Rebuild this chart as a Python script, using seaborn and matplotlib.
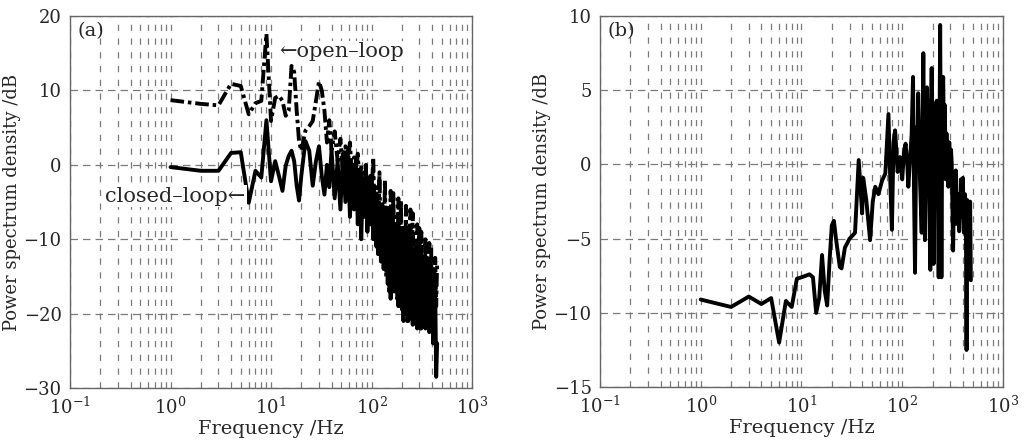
import numpy as np
import pandas as pd
import seaborn as sns
import matplotlib.pyplot as plt
from matplotlib.ticker import LogLocator, FixedLocator

# ======================================
# DATA
# ======================================
freq_a = [1, 2, 3, 4, 5, 6, 7, 8, 9, 10, 11, 12, 13, 14, 15, 16, 17, 18, 19, 20,
          22, 24, 26, 28, 30, 32, 34, 36, 38, 40,
          43, 46, 49, 52, 55, 58, 61, 64, 67, 70,
          73, 76, 79, 82, 85, 88, 91, 94, 97, 100,
          104, 108, 112, 116, 120, 124, 128, 132, 136, 140,
          145, 150, 155, 160, 165, 170, 175, 180, 185, 190,
          196, 202, 208, 214, 220, 226, 232, 238, 244, 250,
          257, 264, 271, 278, 285, 292, 299, 306, 313, 320,
          328, 336, 344, 352, 360, 368, 376, 384, 392, 400,
          410, 420, 430, 440, 450]

open_loop = [8.7, 8.2, 8.0, 10.9, 10.6, 6.8, 8.3, 8.6, 17.6, 5.9,
             9.0, 9.3, 8.6, 6.6, 7.3, 13.3, 12.5, 7.3, 3.2, 1.9,
             4.6, 5.2, 5.9, 8.6, 11.2, 10.0, 7.3, 3.0, 6.0, 2.0,
             4.5, 0.5, 3.5, -1.0, 2.5, 0.0, 3.0, -2.0, 1.0, -1.5,
             1.5, -3.0, 0.0, -4.0, -1.0, -5.0, -2.0, -6.0, -1.5, -4.5,
             1.0, -9.0, -3.0, -12.0, -1.0, -13.0, -5.0, -14.0, -2.0, -15.0,
             -5.5, -17.0, -3.5, -16.0, -3.8, -17.5, -7.0, -18.0, -4.5, -19.0,
             -4.8, -19.5, -8.5, -20.0, -5.5, -21.0, -8.0, -20.0, -6.0, -21.0,
             -6.5, -20.0, -11.0, -21.5, -8.0, -20.0, -8.5, -22.0, -9.0, -21.0,
             -13.0, -21.5, -10.0, -22.0, -12.5, -21.0, -10.5, -20.5, -11.0, -22.0,
             -14.0, -21.0, -12.5, -19.0, -13.0]

closed_loop = [-0.3, -0.8, -0.8, 1.6, 1.7, -5.1, -0.8, -1.7, 6.0, -2.2,
               0.5, -1.5, -3.5, -0.1, 1.2, 1.9, 0.5, -2.8, -4.8, -1.5,
               3.2, 1.9, -2.8, 0.5, 2.5, -1.5, -4.0, 0.0, -3.0, 2.0,
               -4.5, 0.5, -6.0, 1.5, -5.0, 2.0, -7.0, 0.0, -6.0, 1.0,
               -8.0, -1.0, -10.0, -2.0, -7.0, 0.0, -9.0, -3.0, -8.0, -2.0,
               -10.0, -4.0, -11.0, -5.0, -12.0, -6.0, -13.0, -7.0, -14.0, -6.5,
               -16.0, -8.0, -18.0, -7.0, -15.0, -9.0, -17.0, -8.0, -19.0, -9.5,
               -18.0, -8.5, -21.0, -10.0, -19.5, -9.0, -21.0, -11.0, -20.0, -10.0,
               -21.5, -12.0, -20.0, -11.0, -22.0, -13.0, -21.0, -12.0, -22.0, -14.0,
               -21.5, -13.0, -22.0, -15.0, -21.0, -14.0, -22.5, -15.0, -20.0, -16.0,
               -24.0, -14.0, -16.0, -28.5, -24.0]

freq_b = [1, 2, 3, 4, 5, 6, 7, 8, 9, 10, 11, 12, 13, 14, 15, 16, 17, 18, 19, 20,
          21, 22, 24, 25, 27, 30, 32, 34, 37, 40, 41, 44, 48, 51, 54, 58, 63, 68,
          73, 76, 79, 82, 85, 90, 95, 100, 104, 108, 112, 115, 120, 124, 128,
          131, 134, 138, 141, 144, 150, 156, 159, 162, 168, 172, 176, 183, 190,
          193, 196, 200, 205, 210, 215, 220, 225, 230, 238, 242, 245, 250, 255,
          260, 265, 270, 275, 281, 287, 293, 300, 305, 310, 315, 320, 327, 334,
          340, 345, 352, 360, 368, 375, 382, 390, 400, 410, 420, 428, 435, 442,
          450, 458, 465, 472, 480]

psd_b = [-9.1, -9.6, -8.9, -9.4, -9.0, -12.0, -9.2, -9.6, -7.7, -7.6,
         -7.5, -7.4, -7.6, -10.0, -9.0, -6.1, -8.5, -9.5, -6.5, -4.1,
         -3.8, -5.0, -6.9, -7.0, -5.6, -5.0, -4.8, -4.6, 0.3, -3.3, -0.9, -2.4,
         -5.1, -2.5, -1.5, -2.0, -1.1, -0.6,
         3.4, -1.0, -4.4, 1.5, 2.3, -0.5, 0.5, -1.0, 0.8, 1.4, 0.2, -1.5, 0.5,
         2.0, 5.9, -2.0, -7.3, 2.5, 0.0, 4.8, -1.0, -4.6, 2.0, 7.5, -5.1, 3.0,
         5.2, 0.0, -7.1, 3.5, 6.5, 0.5, -6.7, 2.0, 4.0, 4.3, -1.0, -7.6, 9.4,
         0.0, -7.6, 3.0, 5.9, 1.0, 4.0, -1.0, 2.1, 0.0, -1.5, 1.5, -0.5, 1.0,
         0.1, -3.0, -5.8, -1.0, -2.0, -0.4, -4.0, -3.0, -2.0, -4.5, -2.9, -1.0,
         -3.5, -0.9, -4.6, -2.0, -3.5, -12.5, -2.4, -5.0, -2.6, -4.0, -2.5,
         -7.8]

df_a = pd.DataFrame({"f": freq_a, "open": open_loop, "closed": closed_loop})
df_b = pd.DataFrame({"f": freq_b, "psd": psd_b})

# ======================================
# STYLE
# ======================================
sns.set_style("white")
plt.rcParams["font.family"] = ["DejaVu Serif"]
plt.rcParams["mathtext.fontset"] = "dejavuserif"

GRID_C = "#7a7a7a"

fig = plt.figure(figsize=(10.27, 4.47), dpi=100)
ax_a = fig.add_axes([0.0682, 0.132, 0.3914, 0.832])
ax_b = fig.add_axes([0.5842, 0.134, 0.3924, 0.830])


def style_axes(ax, ylim, yticks, label):
    ax.set_xscale("log")
    ax.set_xlim(0.1, 1000)
    ax.set_ylim(*ylim)
    ax.yaxis.set_major_locator(FixedLocator(yticks))
    ax.xaxis.set_major_locator(LogLocator(base=10, numticks=10))
    ax.xaxis.set_minor_locator(LogLocator(base=10, subs=np.arange(2, 10), numticks=20))
    ax.grid(which="major", axis="y", color=GRID_C, lw=0.9, ls=(0, (6, 4)))
    ax.grid(which="both", axis="x", color=GRID_C, lw=0.9, ls=(0, (5, 6)))
    ax.tick_params(which="both", direction="in", length=0, labelsize=13, pad=6)
    for sp in ax.spines.values():
        sp.set_color("#666666")
        sp.set_linewidth(1.0)
    ax.set_xlabel("Frequency /Hz", fontsize=14, labelpad=2)
    ax.set_ylabel("Power spectrum density /dB", fontsize=13, labelpad=2)
    ax.text(0.018, 0.985, label, transform=ax.transAxes, fontsize=14,
            va="top", ha="left")


# ======================================
# PANEL (a)
# ======================================
sns.lineplot(data=df_a, x="f", y="open", ax=ax_a, color="black", lw=2.8,
             sort=False, estimator=None, dashes=False)
ax_a.lines[-1].set_dashes((3.5, 1.0, 0.9, 1.0))
sns.lineplot(data=df_a, x="f", y="closed", ax=ax_a, color="black", lw=2.8,
             sort=False, estimator=None)
style_axes(ax_a, (-30, 20), [-30, -20, -10, 0, 10, 20], "(a)")

ax_a.text(12.0, 15.2, "\u2190open\u2013loop", fontsize=15, va="center", ha="left",
          bbox=dict(facecolor="white", edgecolor="none", pad=1))
ax_a.text(5.6, -4.2, "closed\u2013loop\u2190", fontsize=15, va="center", ha="right",
          bbox=dict(facecolor="white", edgecolor="none", pad=1))

# ======================================
# PANEL (b)
# ======================================
sns.lineplot(data=df_b, x="f", y="psd", ax=ax_b, color="black", lw=2.8,
             sort=False, estimator=None)
style_axes(ax_b, (-15, 10), [-15, -10, -5, 0, 5, 10], "(b)")

fig.savefig("out.png", dpi=100)
